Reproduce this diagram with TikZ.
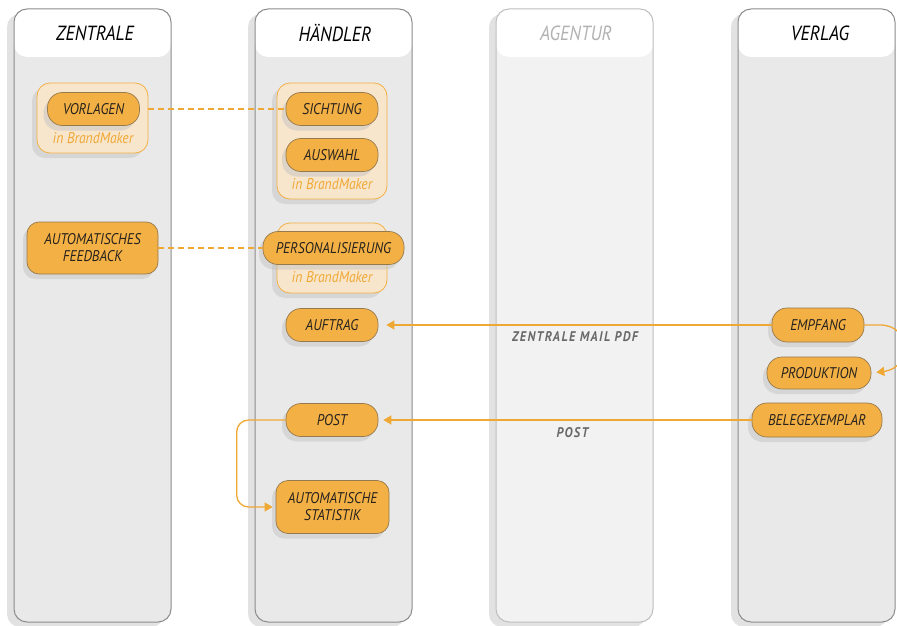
\documentclass[tikz,border=0pt]{standalone}
\usepackage{fontspec}
\newfontfamily\bmfont[FakeStretch=0.88]{PT Sans}
\usepackage{tikz}
\usetikzlibrary{arrows.meta,shapes,positioning,shadows,calc}
\definecolor{bmorange}{RGB}{243,176,68}
\definecolor{bmline}{RGB}{240,168,52}
\definecolor{bmbeige}{RGB}{247,229,204}
\definecolor{bmedge}{RGB}{150,122,78}
\definecolor{bmtext}{RGB}{40,35,30}
\definecolor{bmlane}{RGB}{233,233,233}
\definecolor{bmlanelight}{RGB}{242,242,242}
\definecolor{bmborder}{RGB}{140,140,140}
\definecolor{bmborderlight}{RGB}{190,190,190}
\definecolor{bmshadow}{RGB}{226,226,226}
\definecolor{bmgrey}{RGB}{105,105,105}
\tikzstyle{lane} = [rectangle, draw=bmborder, line width=1pt, fill=bmlane, rounded corners=13pt, minimum width=157pt, minimum height=613pt, drop shadow={shadow xshift=-7pt, shadow yshift=-5pt, fill=bmshadow, opacity=1}, path picture={\fill[white] (path picture bounding box.north west) rectangle ([yshift=-48pt]path picture bounding box.north east);}]
\tikzstyle{lanetitle} = [font=\bmfont\itshape\fontsize{20.5}{24}\selectfont, text=black]
\tikzstyle{container} = [rectangle, draw=bmorange, line width=0.8pt, fill=bmbeige, rounded corners=13pt, minimum width=110pt, drop shadow={shadow xshift=-5pt, shadow yshift=-5pt, fill=black!25, opacity=0.45}]
\tikzstyle{pill} = [rectangle, draw=bmedge, line width=0.7pt, fill=bmorange, rounded corners=15pt, minimum height=33pt, minimum width=92pt, align=center, font=\bmfont\itshape\fontsize{15.5}{17}\selectfont, text=bmtext, drop shadow={shadow xshift=-4pt, shadow yshift=-5pt, fill=black!25, opacity=0.45}]
\tikzstyle{note} = [font=\bmfont\itshape\fontsize{15.5}{17}\selectfont, text=bmline]
\tikzstyle{flow} = [line width=1.3pt, draw=bmline, -{Triangle[width=9pt,length=8pt]}]
\tikzstyle{link} = [line width=1.3pt, draw=bmline, dash pattern=on 6pt off 4pt]
\tikzstyle{flowlabel} = [font=\bmfont\bfseries\itshape\fontsize{14}{16}\selectfont\addfontfeature{LetterSpace=10}, text=bmgrey]

\begin{document}
\begin{tikzpicture}[x=1pt, y=-1pt]
    \useasboundingbox (0,0) rectangle (897,626);

    \node[lane] (zentrale) at (92.5,315.5) {};
    \node[lane] (haendler) at (333.5,315.5) {};
    \node[lane, fill=bmlanelight, draw=bmborderlight] (agentur) at (574.5,315.5) {};
    \node[lane] (verlag) at (816.5,315.5) {};
    \node[lanetitle] (zentraletitle) at (95,33) {ZENTRALE};
    \node[lanetitle] (haendlertitle) at (335,33) {HÄNDLER};
    \node[lanetitle, text=black!30] (agenturtitle) at (576,33) {AGENTUR};
    \node[lanetitle] (verlagtitle) at (820,33) {VERLAG};

    \node[container, minimum width=111pt, minimum height=70pt] (vorlagenbox) at (92.5,118) {};
    \node[container, minimum height=116pt] (sichtungbox) at (332,141) {};
    \node[container, minimum height=70pt] (persbox) at (332,258) {};
    \node[note] (vorlagennote) at (93,138) {in BrandMaker};
    \node[note] (sichtungnote) at (332,184) {in BrandMaker};
    \node[note] (persnote) at (332,277) {in BrandMaker};

    \node[pill] (vorlagen) at (93.5,109) {VORLAGEN};
    \node[pill] (sichtung) at (332,109) {SICHTUNG};
    \node[pill] (auswahl) at (332,155) {AUSWAHL};
    \node[pill, rounded corners=12pt, minimum width=131pt, minimum height=52pt] (feedback) at (92.5,248) {AUTOMATISCHES\\FEEDBACK};
    \node[pill, minimum width=141pt] (pers) at (333.5,248) {PERSONALISIERUNG};
    \node[pill] (auftrag) at (332,325) {AUFTRAG};
    \node[pill] (post) at (332,420) {POST};
    \node[pill, rounded corners=12pt, minimum width=113pt, minimum height=53pt] (statistik) at (332.5,507) {AUTOMATISCHE\\STATISTIK};
    \node[pill, minimum height=34pt] (empfang) at (818,325) {EMPFANG};
    \node[pill, minimum width=104pt, minimum height=32pt] (produktion) at (819,373) {PRODUKTION};
    \node[pill, minimum width=130pt, minimum height=34pt] (beleg) at (817,420) {BELEGEXEMPLAR};

    \draw[link] (vorlagen -| vorlagenbox.east) -- (sichtung.west);
    \draw[link] (feedback.east) -- (pers.west);
    \draw[flow, shorten >=8pt] (empfang.west) -- (auftrag.east) node[flowlabel, midway, below=3pt] (mailpdf) {ZENTRALE MAIL PDF};
    \draw[flow, shorten >=5pt] (empfang.east) -- (880,325) .. controls (912,325) and (912,368) .. (produktion.east);
    \draw[flow, shorten >=5pt] (beleg.west) -- (post.east) node[flowlabel, pos=0.48, below=4pt] (postlabel) {POST};
    \draw[flow, rounded corners=12pt, shorten >=3pt] (post.west) -- ++(-49,0) |- (statistik.west);
\end{tikzpicture}
\end{document}
